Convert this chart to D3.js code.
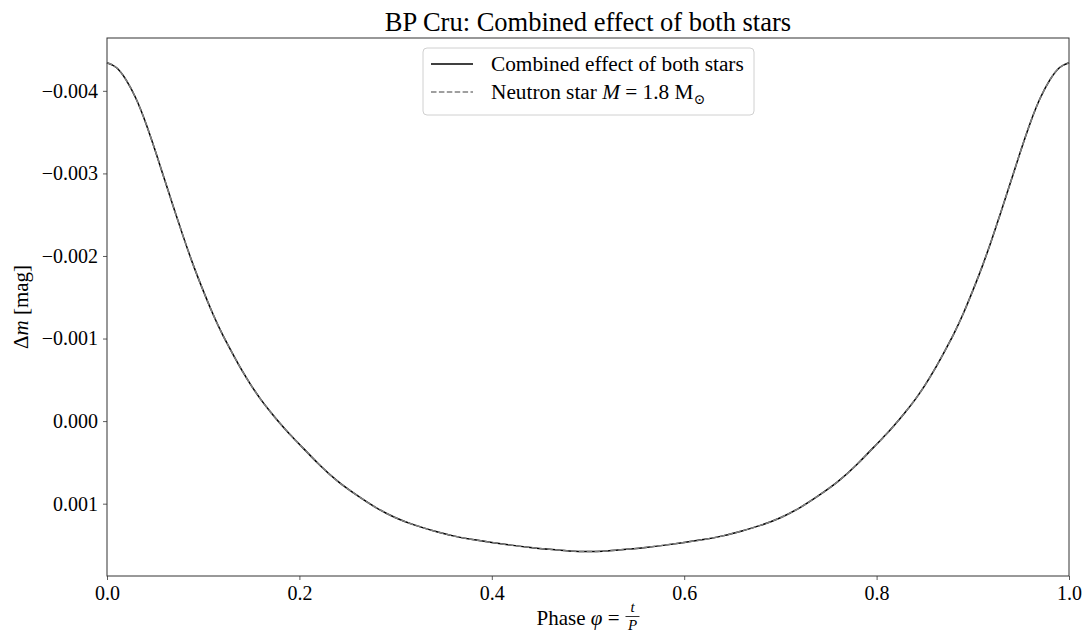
<!DOCTYPE html>
<html>
<head>
<meta charset="utf-8">
<script src="https://cdn.jsdelivr.net/npm/d3@7"></script>
<style>
  body { margin: 0; background: #fff; }
  svg { display: block; }
  text { font-family: "Liberation Serif", "DejaVu Serif", serif; fill: #000; }
</style>
</head>
<body>
<script>
// Phase values (left half, right half read as its mirror)
const phase = [0.00, 0.01, 0.02, 0.03, 0.04, 0.05, 0.06, 0.07, 0.08, 0.09,
               0.10, 0.11, 0.12, 0.13, 0.14, 0.15, 0.16, 0.17, 0.18, 0.19,
               0.20, 0.22, 0.24, 0.26, 0.28, 0.30, 0.32, 0.34, 0.36, 0.38,
               0.40, 0.42, 0.44, 0.46, 0.48, 0.50, 0.52, 0.54, 0.56, 0.58,
               0.60, 0.62, 0.64, 0.66, 0.68, 0.70, 0.72, 0.74, 0.76, 0.78,
               0.80, 0.81, 0.82, 0.83, 0.84, 0.85, 0.86, 0.87, 0.88, 0.89,
               0.90, 0.91, 0.92, 0.93, 0.94, 0.95, 0.96, 0.97, 0.98, 0.99, 1.00];

// Delta m [mag] of the combined light curve
const combined = [-0.00434, -0.00428, -0.00413, -0.00391, -0.00362, -0.00328, -0.00292, -0.00256, -0.00221, -0.00188,
                  -0.00158, -0.00130, -0.00105, -0.00083, -0.00062, -0.00043, -0.00026, -0.00011, 0.00003, 0.00016,
                  0.00028, 0.00052, 0.00073, 0.00090, 0.00105, 0.00117, 0.00126, 0.00133, 0.00139, 0.001435,
                  0.00147, 0.001502, 0.00153, 0.001553, 0.001572, 0.00158, 0.001572, 0.001553, 0.00153, 0.001502,
                  0.00147, 0.001435, 0.00139, 0.00133, 0.00126, 0.00117, 0.00105, 0.00090, 0.00073, 0.00052,
                  0.00028, 0.00016, 0.00003, -0.00011, -0.00026, -0.00043, -0.00062, -0.00083, -0.00105, -0.00130,
                  -0.00158, -0.00188, -0.00221, -0.00256, -0.00292, -0.00328, -0.00362, -0.00391, -0.00413, -0.00428, -0.00434];

// Neutron star curve lies exactly on top of the combined one
const neutronStar = [-0.00434, -0.00428, -0.00413, -0.00391, -0.00362, -0.00328, -0.00292, -0.00256, -0.00221, -0.00188,
                     -0.00158, -0.00130, -0.00105, -0.00083, -0.00062, -0.00043, -0.00026, -0.00011, 0.00003, 0.00016,
                     0.00028, 0.00052, 0.00073, 0.00090, 0.00105, 0.00117, 0.00126, 0.00133, 0.00139, 0.001435,
                     0.00147, 0.001502, 0.00153, 0.001553, 0.001572, 0.00158, 0.001572, 0.001553, 0.00153, 0.001502,
                     0.00147, 0.001435, 0.00139, 0.00133, 0.00126, 0.00117, 0.00105, 0.00090, 0.00073, 0.00052,
                     0.00028, 0.00016, 0.00003, -0.00011, -0.00026, -0.00043, -0.00062, -0.00083, -0.00105, -0.00130,
                     -0.00158, -0.00188, -0.00221, -0.00256, -0.00292, -0.00328, -0.00362, -0.00391, -0.00413, -0.00428, -0.00434];

const xTicks = [0.0, 0.2, 0.4, 0.6, 0.8, 1.0];
const yTicks = [-0.004, -0.003, -0.002, -0.001, 0.000, 0.001];
const yDomain = [-0.00464, 0.001876];

// Dimensions
const margin = { top: 38, right: 15, bottom: 58, left: 107 };
const width = 1084 - margin.left - margin.right;
const height = 634 - margin.top - margin.bottom;

const svg = d3.select("body").append("svg")
    .attr("width", 1084)
    .attr("height", 634);

const g = svg.append("g")
    .attr("transform", "translate(" + margin.left + "," + margin.top + ")");

// Scales (y inverted: brighter = more negative at the top)
const x = d3.scaleLinear().domain([0, 1]).range([0, width]);
const y = d3.scaleLinear().domain(yDomain).range([0, height]);

const data1 = phase.map((p, i) => ({ p: p, v: combined[i] }));
const data2 = phase.map((p, i) => ({ p: p, v: neutronStar[i] }));

const line = d3.line()
    .x(d => x(d.p))
    .y(d => y(d.v))
    .curve(d3.curveNatural);

g.append("path")
    .datum(data1)
    .attr("d", line)
    .style("fill", "none")
    .style("stroke", "#000")
    .style("stroke-width", 1.5);

g.append("path")
    .datum(data2)
    .attr("d", line)
    .style("fill", "none")
    .style("stroke", "#808080")
    .style("stroke-width", 1.5)
    .style("stroke-dasharray", "5.5,2.4");

// Axes
const xAxis = g.append("g")
    .attr("transform", "translate(0," + height + ")")
    .call(d3.axisBottom(x).tickValues(xTicks).tickFormat(d3.format(".1f")).tickSizeOuter(0).tickSize(4).tickPadding(6));

const yAxis = g.append("g")
    .call(d3.axisLeft(y).tickValues(yTicks).tickFormat(d3.format(".3f")).tickSizeOuter(0).tickSize(4).tickPadding(5));

[xAxis, yAxis].forEach(a => {
    a.select(".domain").remove();
    a.selectAll("line").attr("stroke", "#333").attr("stroke-width", 0.8);
    a.selectAll("text")
        .style("font-family", "'Liberation Serif', serif")
        .style("font-size", "20px");
});

// Frame
g.append("rect")
    .attr("x", 0)
    .attr("y", 0)
    .attr("width", width)
    .attr("height", height)
    .style("fill", "none")
    .style("stroke", "#333")
    .style("stroke-width", 1);

// Title
svg.append("text")
    .attr("x", margin.left + width / 2)
    .attr("y", 31)
    .attr("text-anchor", "middle")
    .style("font-size", "26.5px")
    .text("BP Cru: Combined effect of both stars");

// x label: Phase φ = t/P  (fraction built by hand)
const xlab = svg.append("g");
const xl = xlab.append("text")
    .attr("x", 0)
    .attr("y", 625)
    .style("font-size", "21px");
xl.append("tspan").text("Phase ");
xl.append("tspan").style("font-style", "italic").text("φ");
xl.append("tspan").text(" =");
const mainLen = xl.node().getComputedTextLength();
const fracX = mainLen + 13;
xlab.append("text")
    .attr("x", fracX).attr("y", 612)
    .attr("text-anchor", "middle")
    .style("font-size", "15px").style("font-style", "italic")
    .text("t");
xlab.append("line")
    .attr("x1", fracX - 7).attr("x2", fracX + 7)
    .attr("y1", 616.5).attr("y2", 616.5)
    .style("stroke", "#000").style("stroke-width", 0.8);
xlab.append("text")
    .attr("x", fracX).attr("y", 630)
    .attr("text-anchor", "middle")
    .style("font-size", "15px").style("font-style", "italic")
    .text("P");
const totalLen = fracX + 7;
xlab.attr("transform", "translate(" + (margin.left + width / 2 - totalLen / 2) + ",0)");

// y label: Δm [mag]
const yl = svg.append("text")
    .attr("transform", "translate(28," + (margin.top + height / 2) + ") rotate(-90)")
    .attr("text-anchor", "middle")
    .style("font-size", "21px");
yl.append("tspan").text("Δ");
yl.append("tspan").style("font-style", "italic").text("m");
yl.append("tspan").text(" [mag]");

// Legend
const legend = svg.append("g").attr("transform", "translate(423,48)");
legend.append("rect")
    .attr("width", 331)
    .attr("height", 67)
    .attr("rx", 4)
    .style("fill", "#fff")
    .style("fill-opacity", 0.8)
    .style("stroke", "#d0d0d0")
    .style("stroke-width", 1);

legend.append("line")
    .attr("x1", 8).attr("x2", 50).attr("y1", 16).attr("y2", 16)
    .style("stroke", "#000").style("stroke-width", 1.5);
legend.append("line")
    .attr("x1", 8).attr("x2", 50).attr("y1", 44).attr("y2", 44)
    .style("stroke", "#808080").style("stroke-width", 1.5)
    .style("stroke-dasharray", "5.5,2.4");

legend.append("text")
    .attr("x", 68).attr("y", 23)
    .style("font-size", "21.3px")
    .text("Combined effect of both stars");

const l2 = legend.append("text")
    .attr("x", 68).attr("y", 51)
    .style("font-size", "21.3px");
l2.append("tspan").text("Neutron star ");
l2.append("tspan").style("font-style", "italic").text("M");
l2.append("tspan").text(" = 1.8 M");
l2.append("tspan").style("font-size", "14px").attr("dy", 5).text("⊙");
</script>
</body>
</html>
